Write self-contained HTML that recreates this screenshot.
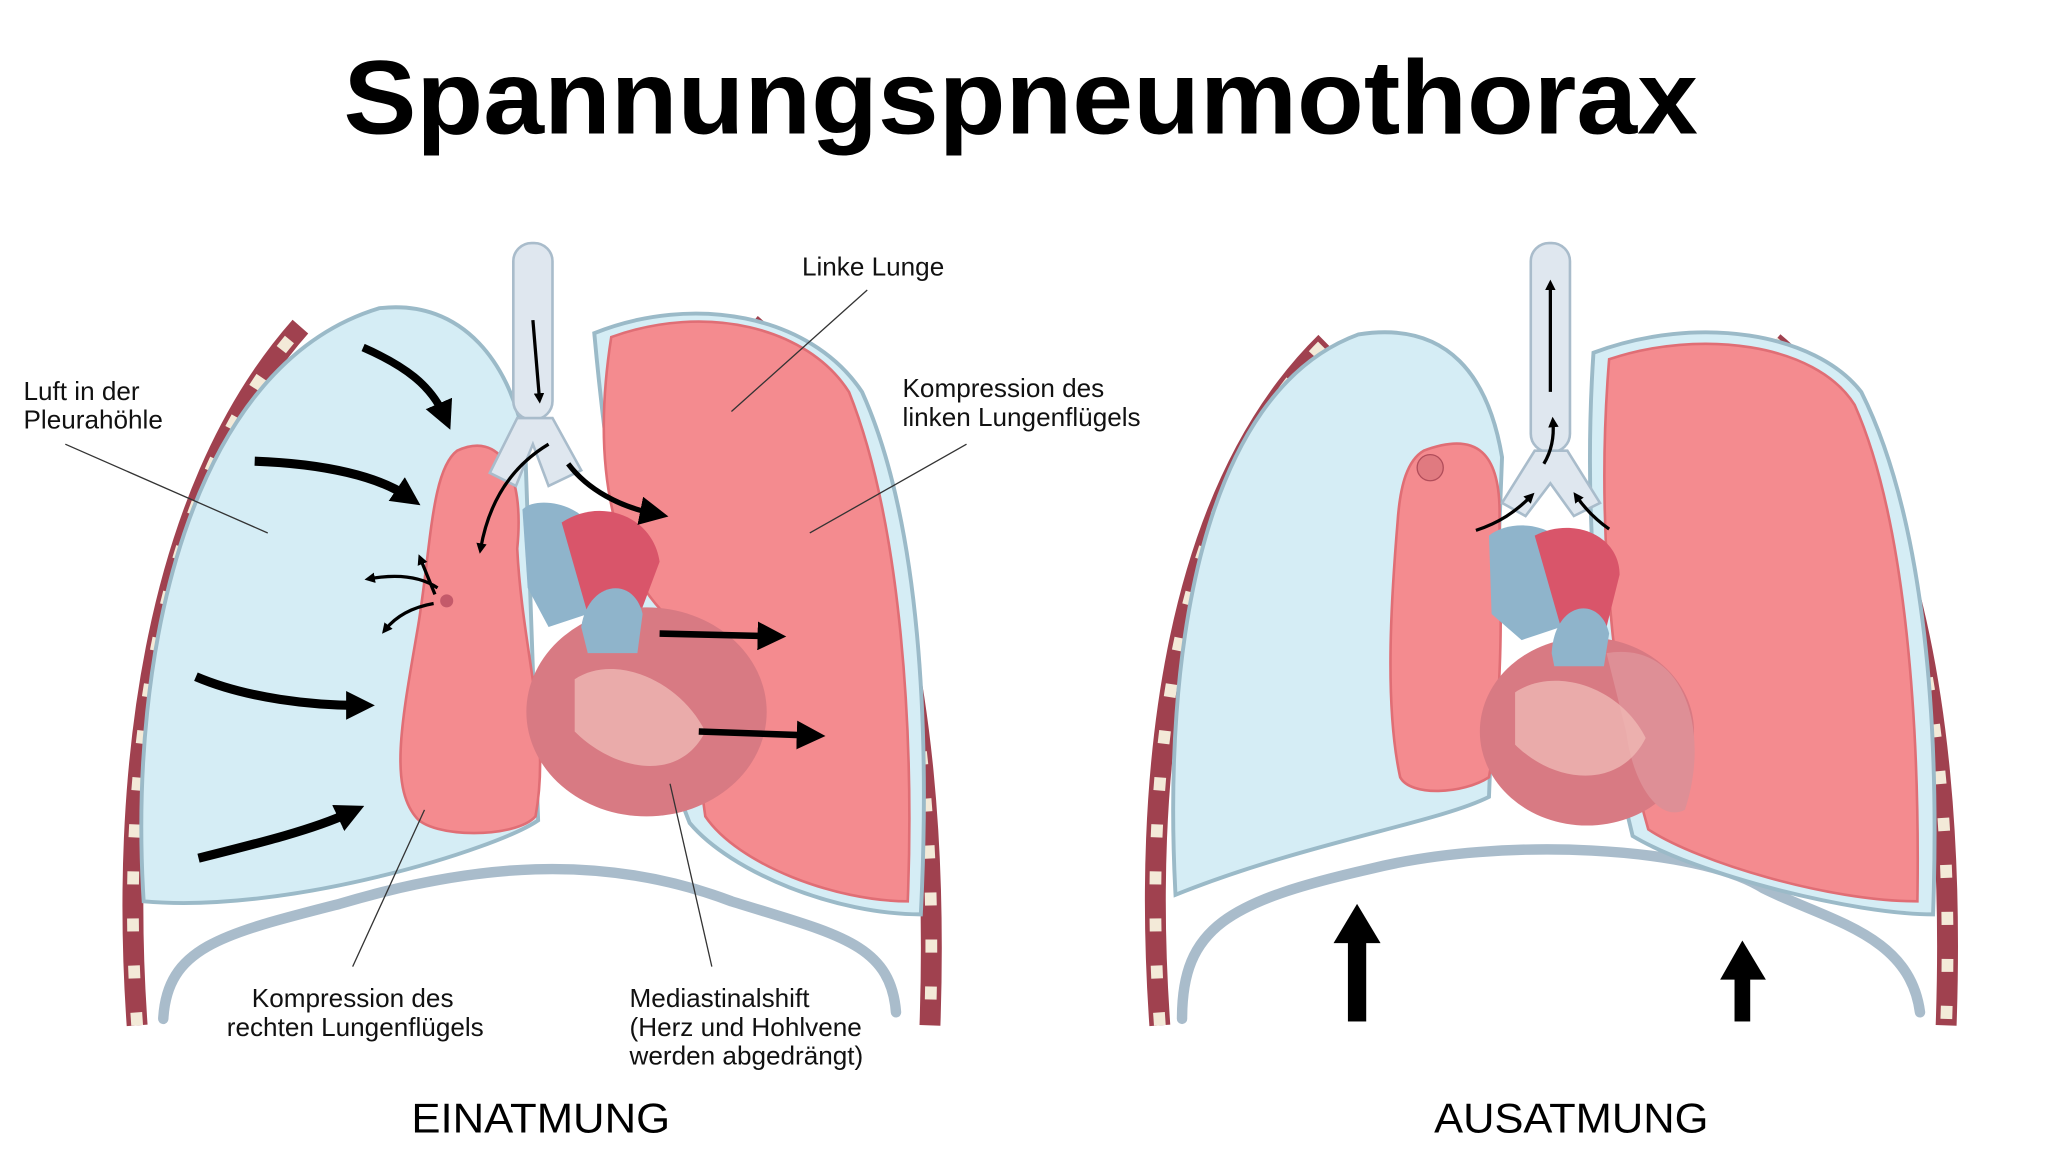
<!DOCTYPE html>
<html><head><meta charset="utf-8"><style>
html,body{margin:0;padding:0;background:#fff;}
svg{display:block;}
text{font-family:"Liberation Sans","DejaVu Sans",sans-serif;}
</style></head><body>
<svg width="2048" height="1160" viewBox="0 0 1568 888" xmlns="http://www.w3.org/2000/svg">
<defs>
<marker id="ahs" markerWidth="8" markerHeight="8" refX="4" refY="4" orient="auto" markerUnits="userSpaceOnUse"><path d="M0,0 L8,4 L0,8 Z" fill="#000"/></marker>
<marker id="ahb" markerWidth="22" markerHeight="22" refX="10" refY="11" orient="auto" markerUnits="userSpaceOnUse"><path d="M0,0 L22,11 L0,22 Z" fill="#000"/></marker>
</defs>
<rect width="1568" height="888" fill="#fff"/>
<text x="263" y="102" font-size="80" font-weight="bold" fill="#000" textLength="1037" lengthAdjust="spacingAndGlyphs">Spannungspneumothorax</text>

<!-- LEFT PANEL -->
<g>
<path d="M105,785 C92,600 115,380 230,250" stroke="#a0414f" stroke-width="16" fill="none"/>
<path d="M105,785 C92,600 115,380 230,250" stroke="#f3ead8" stroke-width="9" fill="none" stroke-dasharray="10 26"/>
<path d="M575,248 C660,320 722,500 712,785" stroke="#a0414f" stroke-width="16" fill="none"/>
<path d="M575,248 C660,320 722,500 712,785" stroke="#f3ead8" stroke-width="9" fill="none" stroke-dasharray="10 26"/>
<path d="M125,780 C128,725 170,715 260,692 C360,662 460,652 560,690 C640,715 682,722 686,775" stroke="#a9bccb" stroke-width="8" fill="none" stroke-linecap="round"/>
<path d="M110,690 C98,500 145,280 290,236 C355,228 392,280 402,340 L412,628 C380,650 220,700 110,690 Z" fill="#d5edf5" stroke="#9bbac8" stroke-width="3"/>
<path d="M455,255 C530,225 620,240 660,300 C705,400 712,560 705,700 C640,700 560,668 528,630 C500,560 470,420 455,255 Z" fill="#d5edf5" stroke="#9bbac8" stroke-width="3"/>
<path d="M468,258 C540,232 618,250 650,300 C690,400 700,560 695,690 C640,690 565,662 540,625 L520,480 C470,440 452,360 468,258 Z" fill="#f48b8f" stroke="#e06e75" stroke-width="2"/>
<path d="M350,345 C382,330 402,360 396,420 C400,500 422,560 410,625 C395,642 330,642 318,625 C298,600 308,550 320,480 C330,420 330,360 350,345 Z" fill="#f48b8f" stroke="#e06e75" stroke-width="2"/>
<rect x="393" y="186" width="30" height="135" rx="14" fill="#dfe7ef" stroke="#a9bccb" stroke-width="2"/>
<path d="M396,320 L375,362 L395,372 L408,340 L420,372 L445,360 L423,320 Z" fill="#dfe7ef" stroke="#a9bccb" stroke-width="2"/>
<path d="M400,390 C410,380 440,385 450,400 L450,470 L420,480 L404,450 Z" fill="#8fb4cb"/>
<path d="M430,400 C460,380 500,395 505,430 L490,470 L450,470 Z" fill="#d9556a"/>
<ellipse cx="495" cy="545" rx="92" ry="80" fill="#d87a83"/>
<path d="M440,520 C470,500 520,520 540,560 C520,600 470,590 440,560 Z" fill="#efb8b4" opacity="0.8"/>
<path d="M445,480 C450,445 485,440 492,470 L488,500 L450,500 Z" fill="#8fb4cb"/>
<path d="M278,266 C310,280 330,295 340,318" stroke="#000" stroke-width="6" fill="none" marker-end="url(#ahb)"/>
<path d="M195,353 C250,355 290,365 312,380" stroke="#000" stroke-width="7" fill="none" marker-end="url(#ahb)"/>
<path d="M150,518 C190,535 240,540 275,540" stroke="#000" stroke-width="7" fill="none" marker-end="url(#ahb)"/>
<path d="M152,657 C200,645 240,635 268,622" stroke="#000" stroke-width="7" fill="none" marker-end="url(#ahb)"/>
<path d="M408,245 L413,305" stroke="#000" stroke-width="2.5" fill="none" marker-end="url(#ahs)"/>
<path d="M420,340 C395,355 375,380 368,420" stroke="#000" stroke-width="2.5" fill="none" marker-end="url(#ahs)"/>
<path d="M435,355 C450,375 475,388 500,393" stroke="#000" stroke-width="4" fill="none" marker-end="url(#ahb)"/>
<path d="M505,485 L590,487" stroke="#000" stroke-width="5" fill="none" marker-end="url(#ahb)"/>
<path d="M535,560 L620,563" stroke="#000" stroke-width="5" fill="none" marker-end="url(#ahb)"/>
<path d="M335,450 C320,440 300,440 283,443" stroke="#000" stroke-width="2.5" fill="none" marker-end="url(#ahs)"/>
<path d="M333,455 L322,428" stroke="#000" stroke-width="2.5" fill="none" marker-end="url(#ahs)"/>
<path d="M332,462 C315,465 303,472 295,482" stroke="#000" stroke-width="2.5" fill="none" marker-end="url(#ahs)"/>
<circle cx="342" cy="460" r="5" fill="#c45a6a"/>
<g stroke="#333" stroke-width="1" fill="none">
<line x1="50" y1="340" x2="205" y2="408"/>
<line x1="664" y1="222" x2="560" y2="315"/>
<line x1="740" y1="340" x2="620" y2="408"/>
<line x1="270" y1="740" x2="325" y2="620"/>
<line x1="545" y1="740" x2="513" y2="600"/>
</g>
</g>
<g font-size="20" fill="#111">
<text x="18" y="306">Luft in der</text>
<text x="18" y="328">Pleurahöhle</text>
<text x="614" y="211">Linke Lunge</text>
<text x="691" y="304">Kompression des</text>
<text x="691" y="326">linken Lungenflügels</text>
<text x="270" y="771" text-anchor="middle">Kompression des</text>
<text x="272" y="793" text-anchor="middle">rechten Lungenflügels</text>
<text x="482" y="771">Mediastinalshift</text>
<text x="482" y="793">(Herz und Hohlvene</text>
<text x="482" y="815">werden abgedrängt)</text>
</g>
<text x="315" y="867" font-size="32" fill="#000" textLength="198" lengthAdjust="spacingAndGlyphs">EINATMUNG</text>

<!-- RIGHT PANEL -->
<g>
<path d="M888,785 C875,600 895,380 1015,262" stroke="#a0414f" stroke-width="16" fill="none"/>
<path d="M888,785 C875,600 895,380 1015,262" stroke="#f3ead8" stroke-width="9" fill="none" stroke-dasharray="10 26"/>
<path d="M1358,262 C1440,330 1500,500 1490,785" stroke="#a0414f" stroke-width="16" fill="none"/>
<path d="M1358,262 C1440,330 1500,500 1490,785" stroke="#f3ead8" stroke-width="9" fill="none" stroke-dasharray="10 26"/>
<path d="M905,780 C905,710 940,690 1050,665 C1150,640 1300,648 1350,680 C1400,705 1462,715 1470,775" stroke="#a9bccb" stroke-width="8" fill="none" stroke-linecap="round"/>
<path d="M900,685 C890,500 920,300 1040,256 C1110,245 1140,290 1150,350 L1140,610 C1100,630 1000,645 900,685 Z" fill="#d5edf5" stroke="#9bbac8" stroke-width="3"/>
<path d="M1220,270 C1300,240 1390,255 1425,300 C1475,400 1485,560 1480,700 C1420,700 1300,670 1250,640 C1230,560 1210,420 1220,270 Z" fill="#d5edf5" stroke="#9bbac8" stroke-width="3"/>
<path d="M1232,275 C1300,252 1390,262 1420,310 C1460,400 1470,560 1468,690 C1400,690 1300,660 1262,635 C1240,560 1220,420 1232,275 Z" fill="#f48b8f" stroke="#e06e75" stroke-width="2"/>
<path d="M1090,345 C1130,330 1150,345 1148,400 C1150,470 1150,540 1140,595 C1120,608 1080,610 1072,595 C1060,540 1065,460 1070,400 C1072,370 1078,352 1090,345 Z" fill="#f48b8f" stroke="#e06e75" stroke-width="2"/>
<circle cx="1095" cy="358" r="10" fill="#e07a80" stroke="#b14d5a"/>
<rect x="1172" y="186" width="30" height="160" rx="14" fill="#dfe7ef" stroke="#a9bccb" stroke-width="2"/>
<path d="M1175,345 L1150,385 L1168,395 L1187,370 L1205,395 L1225,385 L1200,345 Z" fill="#dfe7ef" stroke="#a9bccb" stroke-width="2"/>
<path d="M1140,410 C1155,398 1185,400 1195,415 L1195,480 L1165,490 L1142,470 Z" fill="#8fb4cb"/>
<path d="M1175,410 C1205,395 1240,410 1240,440 L1230,480 L1195,480 Z" fill="#d9556a"/>
<ellipse cx="1215" cy="560" rx="82" ry="72" fill="#d87a83"/>
<path d="M1230,500 C1290,490 1310,560 1290,620 C1270,630 1250,600 1245,560 Z" fill="#de8f96"/>
<path d="M1160,530 C1190,510 1240,525 1260,565 C1240,605 1190,600 1160,570 Z" fill="#efb8b4" opacity="0.8"/>
<path d="M1188,500 C1190,460 1225,455 1232,485 L1228,510 L1190,510 Z" fill="#8fb4cb"/>
<path d="M1187,300 L1187,218" stroke="#000" stroke-width="2.5" fill="none" marker-end="url(#ahs)"/>
<path d="M1182,355 C1188,345 1190,335 1189,323" stroke="#000" stroke-width="2.5" fill="none" marker-end="url(#ahs)"/>
<path d="M1130,406 C1148,400 1160,392 1172,380" stroke="#000" stroke-width="2.5" fill="none" marker-end="url(#ahs)"/>
<path d="M1232,405 C1222,398 1214,390 1207,380" stroke="#000" stroke-width="2.5" fill="none" marker-end="url(#ahs)"/>
<rect x="1032" y="720" width="14" height="62" fill="#000"/>
<path d="M1021,722 L1039,692 L1057,722 Z" fill="#000"/>
<rect x="1328" y="748" width="12" height="34" fill="#000"/>
<path d="M1317,750 L1334,720 L1352,750 Z" fill="#000"/>
</g>
<text x="1098" y="867" font-size="32" fill="#000" textLength="210" lengthAdjust="spacingAndGlyphs">AUSATMUNG</text>
</svg>
</body></html>
